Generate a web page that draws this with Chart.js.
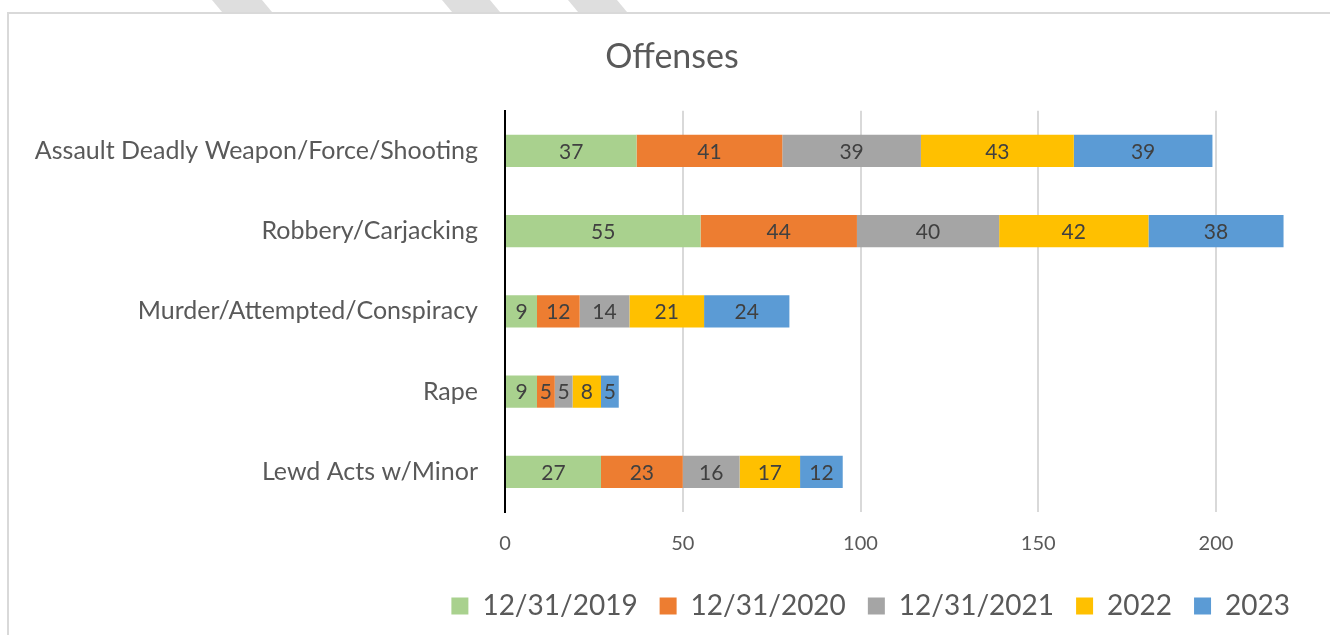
<!DOCTYPE html>
<html>
<head>
<meta charset="utf-8">
<script src="https://cdn.jsdelivr.net/npm/chart.js@4"></script>
<style>
  html, body { margin: 0; padding: 0; background: #fff; overflow: hidden; }
  #frame { position: absolute; left: 7px; top: 12px; width: 1400px; height: 700px;
           border-left: 2px solid #d9d9d9; border-top: 2px solid #d9d9d9; }
  .stripe { position: absolute; top: 0; height: 12px; background: #dedede; }
  #wrap { position: absolute; left: 0; top: 0; width: 1330px; height: 635px; }
</style>
</head>
<body>
<div class="stripe" style="left:212px;width:60px;clip-path:polygon(0 0,50px 0,60px 100%,10px 100%)"></div>
<div class="stripe" style="left:442px;width:58px;clip-path:polygon(0 0,48px 0,58px 100%,10px 100%)"></div>
<div class="stripe" style="left:568px;width:59px;clip-path:polygon(0 0,49px 0,59px 100%,10px 100%)"></div>
<div id="frame"></div>
<div id="wrap"><canvas id="grafico"></canvas></div>
<script>
const categorias = ['Assault Deadly Weapon/Force/Shooting', 'Robbery/Carjacking', 'Murder/Attempted/Conspiracy', 'Rape', 'Lewd Acts w/Minor']
const series = ['12/31/2019', '12/31/2020', '12/31/2021', '2022', '2023']
const v2019 = [37, 55, 9, 9, 27]
const v2020 = [41, 44, 12, 5, 23]
const v2021 = [39, 40, 14, 5, 16]
const v2022 = [43, 42, 21, 8, 17]
const v2023 = [39, 38, 24, 5, 12]
const ticksX = [0, 50, 100, 150, 200]

const cores = ['#A9D18E', '#ED7D31', '#A5A5A5', '#FFC000', '#5B9BD5']
const valores = [v2019, v2020, v2021, v2022, v2023]
const fonte = 'Lato, "Open Sans", sans-serif'

// numbers in the middle of each segment
const rotulos = {
  id: 'rotulos',
  afterDatasetsDraw(chart) {
    const ctx = chart.ctx
    ctx.save()
    ctx.font = '21px ' + fonte
    ctx.fillStyle = '#404040'
    ctx.textAlign = 'center'
    ctx.textBaseline = 'middle'
    chart.data.datasets.forEach((ds, i) => {
      chart.getDatasetMeta(i).data.forEach((el, j) => {
        ctx.fillText(ds.data[j], (el.x + el.base) / 2, el.y + 1)
      })
    })
    ctx.restore()
  }
}

document.addEventListener('DOMContentLoaded', () => {
  const ctx = document.getElementById('grafico')

  new Chart(ctx, {
    type: 'bar',
    data: {
      labels: categorias,
      datasets: series.map((s, i) => ({
        label: s,
        data: valores[i],
        backgroundColor: cores[i],
        borderWidth: 0,
        barPercentage: 0.4,
        categoryPercentage: 1,
        clip: false
      }))
    },
    options: {
      indexAxis: 'y',
      responsive: true,
      maintainAspectRatio: false,
      animation: false,
      layout: { padding: { left: 32, right: 18, top: 0, bottom: 5 } },
      scales: {
        x: {
          stacked: true,
          min: 0,
          max: 200,
          afterBuildTicks: s => { s.ticks = ticksX.map(v => ({ value: v })) },
          afterFit: s => { s.height = 58 },
          grid: { color: '#d9d9d9', lineWidth: 2, drawTicks: false },
          border: { display: false },
          ticks: { padding: 20, color: '#595959', font: { family: fonte, size: 20 } }
        },
        y: {
          stacked: true,
          afterFit: s => { s.width = 473 },
          grid: { display: false },
          border: { display: true, color: '#000', width: 2 },
          ticks: { padding: 19, color: '#595959', font: { family: fonte, size: 25 } }
        },
        yR: {
          type: 'category',
          position: 'right',
          afterFit: s => { s.width = 96 },
          grid: { display: false },
          border: { display: false },
          ticks: { display: false }
        }
      },
      plugins: {
        title: {
          display: true,
          text: 'Offenses',
          color: '#595959',
          font: { family: fonte, size: 34, weight: 'normal' },
          padding: { top: 37, bottom: 33 }
        },
        legend: {
          position: 'bottom',
          align: 'end',
          labels: {
            color: '#595959',
            font: { family: fonte, size: 28 },
            boxWidth: 17,
            boxHeight: 17,
            padding: 22
          }
        },
        tooltip: { enabled: false }
      }
    },
    plugins: [rotulos]
  })
})
</script>
</body>
</html>
